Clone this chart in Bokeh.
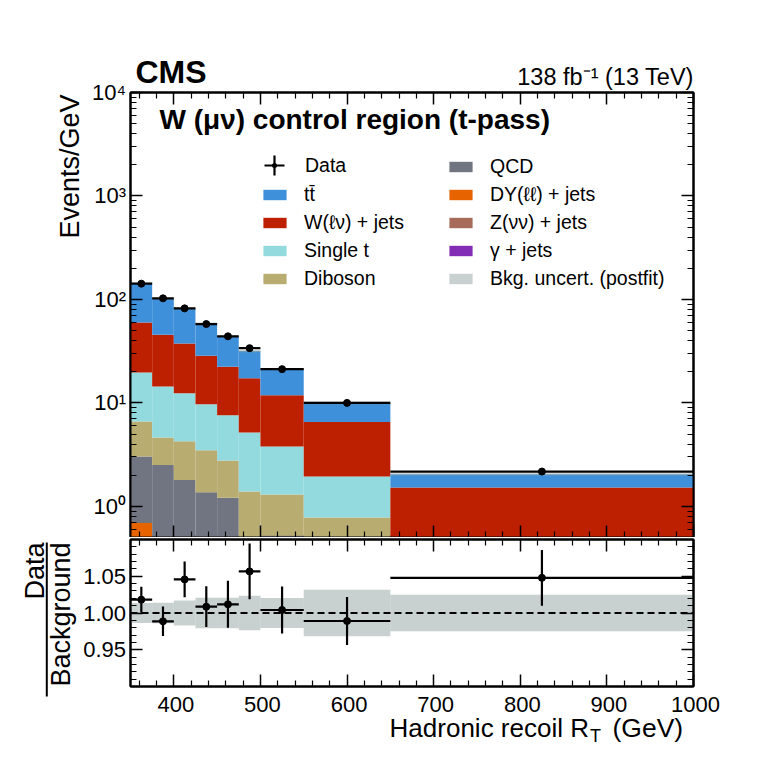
import numpy as np
from bokeh.plotting import figure
from bokeh.models import (ColumnDataSource, FixedTicker, LinearAxis, LogAxis, Label,
                          Legend, LegendItem, Span, BoxAnnotation, Range1d, LogScale)
from bokeh.layouts import column, row
from bokeh.core.properties import value
from bokeh.embed import file_html
from bokeh.resources import INLINE

# ---------------- data ----------------
bin_edges = [350, 375, 400, 425, 450, 475, 500, 550, 650, 1000]

# background yields per bin (Events/GeV), stacked bottom -> top
gamma_jets = [0.02, 0.02, 0.01, 0.01, 0.01, 0.01, 0.01, 0.005, 0.002]
zvv_jets   = [0.06, 0.05, 0.04, 0.03, 0.03, 0.02, 0.02, 0.01, 0.005]
dy_jets    = [0.61, 0.35, 0.30, 0.25, 0.20, 0.15, 0.12, 0.06, 0.03]
qcd        = [2.34, 2.09, 1.45, 1.08, 0.97, 0.12, 0.37, 0.10, 0.05]
diboson    = [3.57, 2.11, 2.46, 2.11, 1.56, 1.09, 0.78, 0.605, 0.20]
single_t   = [13.1, 9.78, 8.14, 6.22, 4.83, 3.78, 2.48, 1.16, 0.16]
w_jets     = [40.3, 31.1, 25.2, 18.8, 14.7, 12.1, 8.10, 4.60, 1.07]
ttbar      = [84.0, 56.5, 44.4, 30.2, 21.7, 14.4, 9.30, 3.46, 0.52]

data_vals = [142.0, 102.5, 82.0, 57.8, 44.0, 33.8, 21.2, 10.0, 2.17]
data_errs = [2.4, 2.0, 1.8, 1.5, 1.3, 1.2, 0.65, 0.32, 0.08]

bkg_rel_unc = [0.0136, 0.0140, 0.0170, 0.0206, 0.0206, 0.0235, 0.0204, 0.0315, 0.0248]

ratio_vals = [1.0181, 0.9887, 1.0457, 1.0086, 1.0118, 1.0566, 1.0041, 0.9891, 1.0478]
ratio_errs = [0.0177, 0.0200, 0.0242, 0.0278, 0.0320, 0.0378, 0.0320, 0.0326, 0.0380]

process_names = ["γ + jets", "Z(νν) + jets", "DY(ℓℓ) + jets", "QCD", "Diboson",
                 "Single t", "W(ℓν) + jets", "tt̄"]
process_values = [gamma_jets, zvv_jets, dy_jets, qcd, diboson, single_t, w_jets, ttbar]

x_major = [400, 500, 600, 700, 800, 900, 1000]
x_major_labels = ["400", "500", "600", "700", "800", "900", "1000"]
x_minor = [360, 380, 420, 440, 460, 480, 520, 540, 560, 580, 620, 640, 660, 680,
           720, 740, 760, 780, 820, 840, 860, 880, 920, 940, 960, 980]
log_major = [1, 10, 100, 1000, 10000]
log_major_labels = ["10⁰", "10¹", "10²", "10³", "10⁴"]
ratio_major = [0.95, 1.00, 1.05]
ratio_major_labels = ["0.95", "1.00", "1.05"]
ratio_minor = [0.91, 0.92, 0.93, 0.94, 0.96, 0.97, 0.98, 0.99,
               1.01, 1.02, 1.03, 1.04, 1.06, 1.07, 1.08, 1.09]

X_LO, X_HI = 350, 1000
Y_LO, Y_HI = 0.5, 1e4
R_LO, R_HI = 0.9, 1.1

# ---------------- style / layout (page pixels) ----------------
FONT = "Liberation Sans"
colors = {
    "γ + jets": "#832db6", "Z(νν) + jets": "#a96b59", "DY(ℓℓ) + jets": "#e76300",
    "QCD": "#717581", "Diboson": "#b9ac70", "Single t": "#92dadd",
    "W(ℓν) + jets": "#bd1f01", "tt̄": "#3f90da",
}
UNC_COLOR = "#94a4a2"
BSH = 0.33       # baseline correction (fraction of font size)

O = 1            # page origin
XL = 129         # left strip | main column
FL = 131         # frame left
FW = 563         # frame width
XR = 765         # right edge
YH = 91          # header bottom
Y1T, FH1 = 93, 445
Y2T, FH2 = 540, 147
YS = 539         # split of left strip
YF = 689         # footer top
YE = 765         # bottom
BR = XR - FL - FW
MAIN_W = XR - XL

edges = np.array(bin_edges, dtype=float)
lefts, rights = edges[:-1], edges[1:]
centers = 0.5 * (lefts + rights)


def style_axis(ax):
    ax.axis_line_width = 2
    ax.major_tick_in = 12
    ax.major_tick_out = 0
    ax.minor_tick_in = 6
    ax.minor_tick_out = 0
    ax.major_tick_line_width = 1.5
    ax.minor_tick_line_width = 1.2
    ax.major_label_text_font = FONT
    ax.major_label_text_font_size = "1px"
    ax.major_label_text_alpha = 0
    ax.major_label_standoff = 0


def blank_fig(w, h, xr, yr):
    f = figure(frame_width=w, frame_height=h, x_range=xr, y_range=yr,
               x_axis_type=None, y_axis_type=None, min_border=0,
               output_backend="svg", toolbar_location=None)
    f.outline_line_color = None
    f.background_fill_color = "white"
    f.border_fill_color = "white"
    return f


# ---------------- top panel ----------------
p = figure(frame_width=FW, frame_height=FH1, y_axis_type="log",
           x_range=Range1d(X_LO, X_HI), y_range=Range1d(Y_LO, Y_HI),
           min_border_left=FL - XL, min_border_right=BR, min_border_top=Y1T - YH,
           min_border_bottom=0, output_backend="svg", toolbar_location=None)
p.grid.visible = False
p.outline_line_color = "black"
p.outline_line_width = 2

log_minor = [m * 10.0 ** e for e in range(-1, 4) for m in range(2, 10)]
xt = FixedTicker(ticks=x_major, minor_ticks=x_minor)
yt = FixedTicker(ticks=log_major, minor_ticks=log_minor)
p.xaxis.ticker = xt
p.yaxis.ticker = yt
style_axis(p.yaxis[0])
style_axis(p.xaxis[0])
ax_top = LinearAxis(ticker=xt)
style_axis(ax_top)
p.add_layout(ax_top, "above")
ax_right = LogAxis(ticker=yt)
style_axis(ax_right)
p.add_layout(ax_right, "right")

stack_renderers = {}
bottom = np.full(len(lefts), 1e-3)
for name, vals in zip(process_names, process_values):
    top = bottom + np.array(vals)
    src = ColumnDataSource(dict(left=lefts, right=rights, bottom=bottom, top=top))
    r = p.quad(left="left", right="right", bottom="bottom", top="top", source=src,
               fill_color=colors[name], line_color=None)
    stack_renderers[name] = r
    bottom = top
total = bottom
unc = np.array(bkg_rel_unc)
r_unc = p.quad(left=lefts, right=rights, bottom=total * (1 - unc), top=total * (1 + unc),
               fill_color=UNC_COLOR, fill_alpha=0.5, line_color=None)

dv = np.array(data_vals)
de = np.array(data_errs)
p.segment(x0=lefts, x1=rights, y0=dv, y1=dv, line_color="black", line_width=2.2)
p.segment(x0=centers, x1=centers, y0=dv - de, y1=dv + de, line_color="black", line_width=2.2)
p.scatter(x=centers, y=dv, size=7, marker="circle", fill_color="black", line_color="black")

# hidden renderers used only for the Data legend glyph
r_cross = p.scatter(x=centers, y=dv, marker="cross", size=20, line_color="black",
                    line_width=2.2, visible=False)
r_dot = p.scatter(x=centers, y=dv, marker="dot", size=20, line_color="black",
                  fill_color="black", line_width=2, visible=False)

common = dict(label_text_font=FONT, label_text_font_size="19.5px", label_text_color="black",
              padding=0, margin=0, border_line_color=None, background_fill_alpha=0,
              orientation="vertical")
leg_data = Legend(items=[LegendItem(label="Data", renderers=[r_cross, r_dot])],
                  location=(119, 347), glyph_width=50, glyph_height=50, label_standoff=6,
                  **common)
leg1 = Legend(items=[LegendItem(label=n, renderers=[stack_renderers[n]])
                     for n in ["tt̄", "W(ℓν) + jets", "Single t", "Diboson"]],
              location=(130, 247), glyph_width=29, glyph_height=13, label_standoff=15,
              label_height=22, spacing=5, **common)
leg2 = Legend(items=[LegendItem(label=n, renderers=[stack_renderers[n]])
                     for n in ["QCD", "DY(ℓℓ) + jets", "Z(νν) + jets", "γ + jets"]]
              + [LegendItem(label="Bkg. uncert. (postfit)", renderers=[r_unc])],
              location=(316, 247), glyph_width=29, glyph_height=13, label_standoff=15,
              label_height=22, spacing=5, **common)
for lg in (leg_data, leg1, leg2):
    p.add_layout(lg)

p.add_layout(Label(x=29, y=(Y1T + FH1 - 129) + BSH * 28, x_units="screen", y_units="screen",
                   text="W (μν) control region (t-pass)", text_font=FONT, text_font_size="28px",
                   text_font_style="bold", text_baseline="alphabetic", text_color="black"))

# ---------------- ratio panel ----------------
p2 = figure(frame_width=FW, frame_height=FH2, x_range=p.x_range, y_range=Range1d(R_LO, R_HI),
            min_border_left=FL - XL, min_border_right=BR, min_border_top=Y2T - (Y1T + FH1),
            min_border_bottom=YF - (Y2T + FH2), output_backend="svg", toolbar_location=None)
p2.grid.visible = False
p2.outline_line_color = "black"
p2.outline_line_width = 2

rt = FixedTicker(ticks=ratio_major, minor_ticks=ratio_minor)
p2.xaxis.ticker = xt
p2.yaxis.ticker = rt
style_axis(p2.xaxis[0])
style_axis(p2.yaxis[0])
ax2_top = LinearAxis(ticker=xt)
style_axis(ax2_top)
p2.add_layout(ax2_top, "above")
ax2_right = LinearAxis(ticker=rt)
style_axis(ax2_right)
p2.add_layout(ax2_right, "right")

p2.quad(left=lefts, right=rights, bottom=1 - unc, top=1 + unc,
        fill_color=UNC_COLOR, fill_alpha=0.5, line_color=None)
p2.add_layout(Span(location=1.0, dimension="width", line_color="black", line_width=2,
                   line_dash="7 4"))
rv = np.array(ratio_vals)
re_ = np.array(ratio_errs)
p2.segment(x0=lefts, x1=rights, y0=rv, y1=rv, line_color="black", line_width=2.2)
p2.segment(x0=centers, x1=centers, y0=rv - re_, y1=rv + re_, line_color="black", line_width=2.2)
p2.scatter(x=centers, y=rv, size=7, marker="circle", fill_color="black", line_color="black")

# ---------------- header (page coordinates) ----------------
header = blank_fig(MAIN_W, YH - O, Range1d(XL, XR), Range1d(YH, O))
header.add_layout(Label(x=134, y=83.3 - BSH * 32, text="CMS", text_font=FONT,
                        text_font_size="32px", text_font_style="bold",
                        text_baseline="alphabetic", text_color="black"))
header.add_layout(Label(x=692.3, y=85.7 - BSH * 23.5, text="138 fb⁻¹ (13 TeV)", text_font=FONT,
                        text_font_size="23.5px", text_align="right", text_baseline="alphabetic",
                        text_color="black"))

# ---------------- footer: x tick labels + x label ----------------
px_per_x = FW / (X_HI - X_LO)
footer = blank_fig(MAIN_W, YE - YF,
                   Range1d(X_LO + (XL - FL) / px_per_x, X_LO + (XR - FL) / px_per_x),
                   Range1d(YE, YF))
footer.text(x=x_major, y=712.3 - BSH * 22, text=x_major_labels, text_font=value(FONT),
            text_font_size=value("22px"), text_align="center", text_baseline="alphabetic",
            text_color="black")
footer.add_layout(Label(x=587.5 - XL, y=YE - 736.7 + BSH * 26, x_units="screen", y_units="screen",
                        text="Hadronic recoil R", text_font=FONT, text_font_size="26px",
                        text_align="right", text_baseline="alphabetic", text_color="black"))
footer.add_layout(Label(x=588.5 - XL, y=YE - 742.0 + BSH * 18, x_units="screen", y_units="screen",
                        text="T", text_font=FONT, text_font_size="18px",
                        text_align="left", text_baseline="alphabetic", text_color="black"))
footer.add_layout(Label(x=611 - XL, y=YE - 736.7 + BSH * 26, x_units="screen", y_units="screen",
                        text="(GeV)", text_font=FONT, text_font_size="26.5px",
                        text_align="left", text_baseline="alphabetic", text_color="black"))

# ---------------- left strips: y tick labels + y labels ----------------
dec = FH1 / (np.log10(Y_HI) - np.log10(Y_LO))
s_hi = 10 ** (np.log10(Y_HI) + (Y1T - O) / dec)
s_lo = 10 ** (np.log10(Y_LO) - (YS - (Y1T + FH1)) / dec)
strip_top = blank_fig(XL - O, YS - O, Range1d(O, XL), Range1d(s_lo, s_hi))
strip_top.y_scale = LogScale()
strip_top.text(x=126.5, y=log_major, text=log_major_labels, text_font=value(FONT),
               text_font_size=value("22px"), text_align="right", text_baseline="middle",
               text_color="black")
strip_top.add_layout(Label(x=70.8 - O, y=YS - 95, x_units="screen", y_units="screen",
                           text="Events/GeV", text_font=FONT, text_font_size="27px",
                           angle=np.pi / 2, text_align="right", text_baseline="middle",
                           text_color="black"))

r_per_px = (R_HI - R_LO) / FH2
strip_bot = blank_fig(XL - O, YE - YS, Range1d(O, XL),
                      Range1d(R_LO - (YE - (Y2T + FH2)) * r_per_px, R_HI + (Y2T - YS) * r_per_px))
strip_bot.text(x=126.5, y=ratio_major, text=ratio_major_labels, text_font=value(FONT),
               text_font_size=value("22px"), text_align="right", text_baseline="middle",
               text_color="black")
strip_bot.add_layout(Label(x=35 - O, y=YE - 543, x_units="screen", y_units="screen",
                           text="Data", text_font=FONT, text_font_size="27px",
                           angle=np.pi / 2, text_align="right", text_baseline="middle",
                           text_color="black"))
strip_bot.add_layout(Label(x=61.7 - O, y=YE - 543, x_units="screen", y_units="screen",
                           text="Background", text_font=FONT, text_font_size="27px",
                           angle=np.pi / 2, text_align="right", text_baseline="middle",
                           text_color="black"))
strip_bot.add_layout(BoxAnnotation(left=46.3 - O, right=48.3 - O, top=YE - 543, bottom=YE - 697,
                                   left_units="screen", right_units="screen",
                                   top_units="screen", bottom_units="screen",
                                   fill_color="black", fill_alpha=1, line_color=None))

layout = row(column(strip_top, strip_bot, spacing=0),
             column(header, p, p2, footer, spacing=0), spacing=0)
open("out.html", "w").write(file_html(layout, INLINE))
